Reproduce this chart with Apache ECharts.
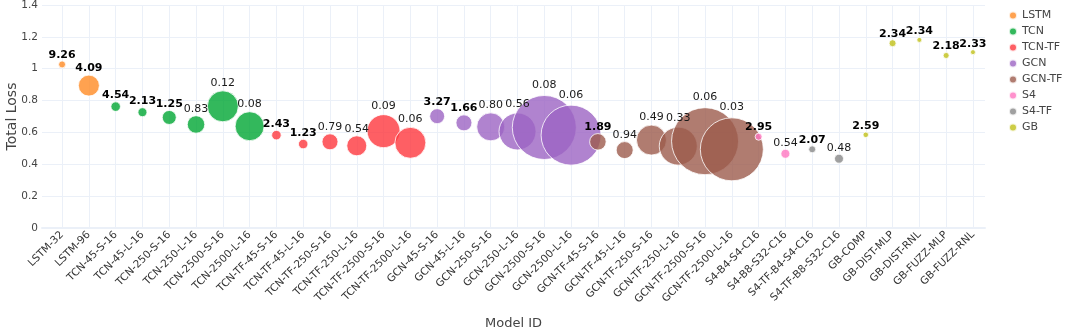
<!DOCTYPE html>
<html>
<head>
<meta charset="utf-8">
<script src="https://cdn.jsdelivr.net/npm/echarts@6/dist/echarts.min.js"></script>
<style>
  html, body { margin: 0; padding: 0; background: #fff; }
  #chart { width: 1065px; height: 331px; }
</style>
</head>
<body>
<div id="chart"></div>
<script>
// model ids along the x axis
const categories = [
  'LSTM-32', 'LSTM-96',
  'TCN-45-S-16', 'TCN-45-L-16', 'TCN-250-S-16', 'TCN-250-L-16', 'TCN-2500-S-16', 'TCN-2500-L-16',
  'TCN-TF-45-S-16', 'TCN-TF-45-L-16', 'TCN-TF-250-S-16', 'TCN-TF-250-L-16', 'TCN-TF-2500-S-16', 'TCN-TF-2500-L-16',
  'GCN-45-S-16', 'GCN-45-L-16', 'GCN-250-S-16', 'GCN-250-L-16', 'GCN-2500-S-16', 'GCN-2500-L-16',
  'GCN-TF-45-S-16', 'GCN-TF-45-L-16', 'GCN-TF-250-S-16', 'GCN-TF-250-L-16', 'GCN-TF-2500-S-16', 'GCN-TF-2500-L-16',
  'S4-B4-S4-C16', 'S4-B8-S32-C16',
  'S4-TF-B4-S4-C16', 'S4-TF-B8-S32-C16',
  'GB-COMP', 'GB-DIST-MLP', 'GB-DIST-RNL', 'GB-FUZZ-MLP', 'GB-FUZZ-RNL'
]

const modelGroup = [
  'LSTM', 'LSTM',
  'TCN', 'TCN', 'TCN', 'TCN', 'TCN', 'TCN',
  'TCN-TF', 'TCN-TF', 'TCN-TF', 'TCN-TF', 'TCN-TF', 'TCN-TF',
  'GCN', 'GCN', 'GCN', 'GCN', 'GCN', 'GCN',
  'GCN-TF', 'GCN-TF', 'GCN-TF', 'GCN-TF', 'GCN-TF', 'GCN-TF',
  'S4', 'S4',
  'S4-TF', 'S4-TF',
  'GB', 'GB', 'GB', 'GB', 'GB'
]

const totalLoss = [
  1.027, 0.894,
  0.762, 0.727, 0.694, 0.650, 0.764, 0.639,
  0.583, 0.527, 0.541, 0.516, 0.608, 0.535,
  0.702, 0.660, 0.635, 0.606, 0.631, 0.583,
  0.541, 0.489, 0.552, 0.514, 0.545, 0.494,
  0.573, 0.466,
  0.494, 0.435,
  0.585, 1.160, 1.181, 1.083, 1.104
]

// bubble diameter
const bubbleSize = [
  7, 21,
  9.5, 9, 14, 17.5, 31, 29,
  9.5, 9.5, 16, 20, 33, 31,
  15, 16, 28, 37, 64, 60,
  16.5, 17, 30, 38, 67, 63,
  7, 9,
  7, 9,
  5.5, 7, 5, 6, 5
]

const pointLabel = [
  '9.26', '4.09',
  '4.54', '2.13', '1.25', '0.83', '0.12', '0.08',
  '2.43', '1.23', '0.79', '0.54', '0.09', '0.06',
  '3.27', '1.66', '0.80', '0.56', '0.08', '0.06',
  '1.89', '0.94', '0.49', '0.33', '0.06', '0.03',
  '2.95', '0.54',
  '2.07', '0.48',
  '2.59', '2.34', '2.34', '2.18', '2.33'
]

const groups = ['LSTM', 'TCN', 'TCN-TF', 'GCN', 'GCN-TF', 'S4', 'S4-TF', 'GB']
const groupColors = ['#ff8b24', '#00a633', '#fe373d', '#9c64c3', '#9c5b4c', '#ff76c1', '#888888', '#c0c018']

const yTicks = [0, 0.2, 0.4, 0.6, 0.8, 1, 1.2, 1.4]

const font = "'DejaVu Sans', Verdana, sans-serif"
const catIndex = categories.map((c, i) => i)

const series = groups.map((g, gi) => {
  const data = []
  categories.forEach((c, i) => {
    if (modelGroup[i] !== g) return
    const bold = parseFloat(pointLabel[i]) >= 1
    data.push({
      value: [i, totalLoss[i], bubbleSize[i]],
      label: {
        distance: Math.max(0, bubbleSize[i] * 0.08 - 0.5),
        fontWeight: bold ? 'bold' : 'normal',
        color: bold ? '#000' : '#1a1a1a'
      }
    })
  })
  return {
    name: g,
    type: 'scatter',
    data: data,
    symbolSize: v => v[2],
    itemStyle: {
      color: groupColors[gi],
      opacity: 0.8,
      borderColor: '#fff',
      borderWidth: 1
    },
    label: {
      show: true,
      position: 'top',
      opacity: 1,
      fontFamily: font,
      fontSize: 11,
      formatter: p => pointLabel[p.value[0]]
    },
    emphasis: { disabled: true }
  }
})

const chart = echarts.init(document.getElementById('chart'))
chart.setOption({
  animation: false,
  backgroundColor: '#fff',
  textStyle: { fontFamily: font },
  grid: { left: 42, right: 80, top: 5, bottom: 103, outerBoundsMode: 'none' },
  // y axis title, drawn as plain text so it sits where the reference has it
  graphic: [{
    type: 'text',
    x: 12,
    y: 116.5,
    rotation: Math.PI / 2,
    style: {
      text: 'Total Loss',
      font: "14px 'DejaVu Sans', Verdana, sans-serif",
      fill: '#444',
      align: 'center',
      verticalAlign: 'middle'
    }
  }],
  legend: {
    orient: 'vertical',
    left: 1003,
    top: 5,
    itemWidth: 8,
    itemHeight: 8,
    itemGap: 5,
    icon: 'circle',
    data: groups,
    textStyle: { fontFamily: font, fontSize: 11, color: '#444' }
  },
  xAxis: {
    type: 'value',
    min: -0.75,
    max: 34.45,
    name: 'Model ID',
    nameLocation: 'middle',
    nameGap: 89,
    nameTextStyle: { fontFamily: font, fontSize: 13, color: '#444' },
    axisLine: { show: true, lineStyle: { color: '#ebf0f8', width: 2 } },
    axisTick: { show: false, customValues: catIndex },
    splitLine: { show: true, lineStyle: { color: '#ebf0f8', width: 1 } },
    axisLabel: {
      customValues: catIndex,
      rotate: 45,
      margin: 5,
      fontFamily: font,
      fontSize: 10.5,
      color: '#333',
      formatter: v => categories[Math.round(v)] || ''
    }
  },
  yAxis: {
    type: 'value',
    min: 0,
    max: 1.4,
    interval: 0.2,
    axisLine: { show: false },
    axisTick: { show: false },
    splitLine: { lineStyle: { color: '#ebf0f8', width: 1 } },
    axisLabel: {
      margin: 4,
      fontFamily: font,
      fontSize: 10.5,
      color: '#444',
      formatter: v => String(yTicks.find(t => Math.abs(t - v) < 1e-6) ?? v)
    }
  },
  series: series
})
</script>
</body>
</html>
